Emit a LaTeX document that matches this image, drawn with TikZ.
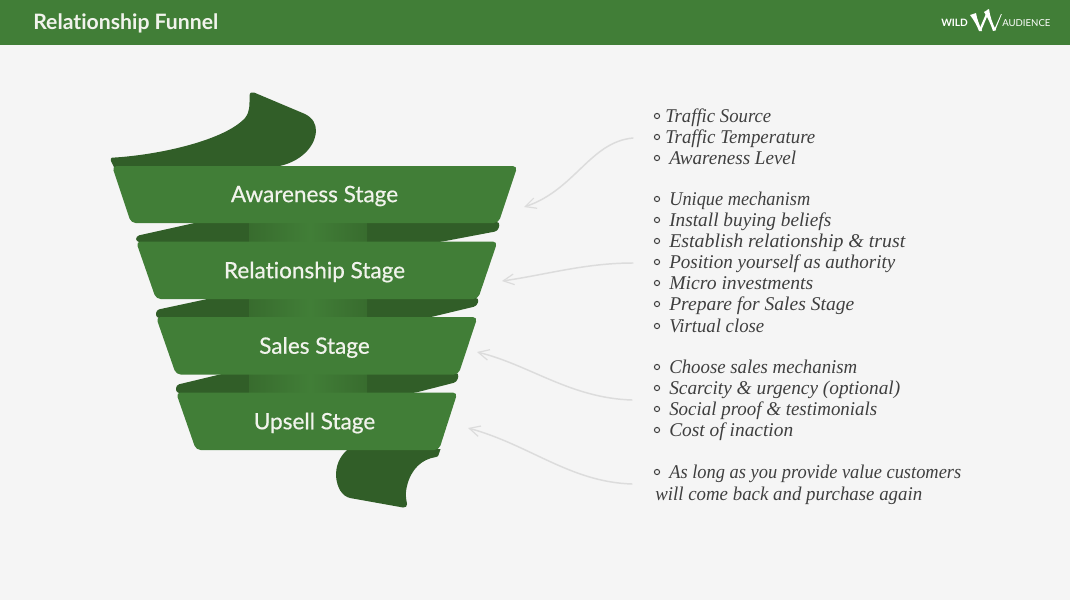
\documentclass[tikz,border=0pt]{standalone}
\usepackage{fontspec}
\setmainfont{Lato}[Ligatures=NoCommon]
\newfontfamily\handfont{Liberation Serif}[ItalicFont=* Italic]
\newfontfamily\stagefont{Lato}[FakeBold=0.6,Ligatures=NoCommon]
\usetikzlibrary{arrows.meta}
\definecolor{pagebg}{HTML}{F5F5F5}
\definecolor{leaf}{HTML}{417E37}
\definecolor{deep}{HTML}{315E28}
\definecolor{midgreen}{HTML}{386C2E}
\definecolor{ink}{HTML}{3F3F3F}
\definecolor{pale}{HTML}{DCDCDC}
\definecolor{cream}{HTML}{F1F3EC}
\tikzset{
  band/.style={fill=leaf,rounded corners=3.5pt},
  stagelabel/.style={text=cream,font=\stagefont\fontsize{16.9pt}{18pt}\selectfont,inner sep=0pt,anchor=center},
  handline/.style={text=ink,font=\handfont\itshape\fontsize{14.6pt}{17pt}\selectfont,inner sep=0pt,anchor=base west},
  bulletdot/.style={draw=ink,line width=0.75pt,fill=none},
  sketcharrow/.style={draw=pale,line width=1.1pt,line cap=round,-{Straight Barb[length=8pt,width=8pt,line width=0.9pt]}},
}
\newcommand{\fitw}[2]{\resizebox{\dimexpr 0.75pt*#1\relax}{\height}{#2}}
\newcommand{\stripshade}[3]{%
  \begin{scope}
    \clip #1;
    \fill[deep] (100,#2) rectangle (540,#3);
    \shade[left color=midgreen,right color=leaf] (249,#2) rectangle (310,#3);
    \shade[left color=leaf,right color=midgreen] (310,#2) rectangle (367,#3);
  \end{scope}}
\begin{document}
\begin{tikzpicture}[x=0.75pt,y=-0.75pt]
\useasboundingbox (0,0) rectangle (1070,600);
\fill[pagebg] (0,0) rectangle (1070,600);
\fill[leaf] (0,0) rectangle (1070,45);
\node[text=cream,font=\bfseries\fontsize{15.9pt}{18pt}\selectfont,inner sep=0pt,anchor=base west] (title) at (33,29.5) {Relationship Funnel};
% logo
\node[text=white,font=\bfseries\fontsize{7.6pt}{8pt}\selectfont,inner sep=0pt,anchor=base west] (logoa) at (941,26.5) {WILD};
\fill[white] (970,15) -- (976,13) .. controls (977,19) and (979,24) .. (982,31) -- (979,31) .. controls (977,26) and (974,20) .. (970,15) -- cycle;
\fill[white] (979,30) -- (988,9) -- (989,12) -- (981,31) -- cycle;
\fill[white] (984,12) -- (989,9) .. controls (990,16) and (992,23) .. (996,30) -- (993,31) .. controls (991,25) and (988,18) .. (984,12) -- cycle;
\fill[white] (994,30) -- (1001,14) -- (1001.8,14) -- (995,31) -- cycle;
\node[text=white,font=\fontsize{7.2pt}{8pt}\selectfont,inner sep=0pt,anchor=base west] (logob) at (1002,26.5) {AUDIENCE};
% top ribbon
\fill[deep] (112,157.7) .. controls (160,155) and (225,140) .. (245,118) .. controls (250,112) and (249.5,105) .. (249.5,96) .. controls (249.5,92.5) and (252,91.5) .. (254,92.5) -- (305,114) .. controls (313,118) and (316,124) .. (316,131) .. controls (315,150) and (295,165) .. (273,167) -- (114,167) -- (111,161) .. controls (110.5,159) and (110.5,158) .. (112,157.7) -- cycle;
% strips between bands
\stripshade{[rounded corners=2.5pt] (136,242) -- (136,236) -- (199,222) -- (500,222) -- (498,231) -- (440,242) -- cycle}{222}{242}
\stripshade{[rounded corners=2.5pt] (156,318) -- (156,310) -- (212,298) -- (479,298) -- (477,306) -- (427,318) -- cycle}{298}{318}
\stripshade{[rounded corners=2.5pt] (176,393) -- (176,385) -- (226,373) -- (459,373) -- (457,382) -- (414,393) -- cycle}{373}{393}
% tail
\fill[deep] (348,449) .. controls (338,458) and (336,467) .. (336,476) .. controls (337,488) and (342,496) .. (350,498) -- (403,507.5) .. controls (406,508) and (407,506) .. (407,504) .. controls (406,498) and (405,494) .. (407,486) .. controls (411,469) and (422,459) .. (436,457) .. controls (437.5,457) and (438,456) .. (438.5,455) -- (440.5,449) -- cycle;
% bands
\fill[band] (112,166) -- (517.5,166) -- (498.5,223) -- (131,223) -- cycle;
\fill[band] (136,241.5) -- (497.5,241.5) -- (478,299) -- (156,299) -- cycle;
\fill[band] (156,317) -- (477.5,317) -- (458.5,374.5) -- (176,374.5) -- cycle;
\fill[band] (176,392.5) -- (457.5,392.5) -- (439,450) -- (196,450) -- cycle;
\node[stagelabel] (s1) at (314.5,196) {Awareness Stage};
\node[stagelabel] (s2) at (314.5,272) {Relationship Stage};
\node[stagelabel] (s3) at (314.5,347.5) {Sales Stage};
\node[stagelabel] (s4) at (314.5,423) {Upsell Stage};
% text lines
\foreach \n/\bx/\tx/\by/\lw/\txt in {
 a/657/665/122/106/Traffic Source,
 b/657/665/143/150/Traffic Temperature,
 c/657/669/164/127/Awareness Level,
 d/657/669/205/141/Unique mechanism,
 e/657/669/226/162/Install buying beliefs,
 f/657/669/247/236/Establish relationship \& trust,
 g/657/669/268/226/Position yourself as authority,
 h/657/669/289/144/Micro investments,
 i/657/669/310/185/Prepare for Sales Stage,
 j/657/669/332/95/Virtual close,
 k/657/669/373/188/Choose sales mechanism,
 l/657/669/394/231/Scarcity \& urgency (optional),
 m/657/669/415/208/Social proof \& testimonials,
 n/657/669/436/124/Cost of inaction,
 o/657/669/478/292/As long as you provide value customers}{
  \node[handline] (t\n) at (\tx,\by) {\fitw{\lw}{\txt}};
  \draw[bulletdot] (\bx,\by-6) circle[radius=2.6];
}
\node[handline] (tp) at (655,500) {\fitw{267}{will come back and purchase again}};
% arrows
\coordinate (a1s) at (633,138); \coordinate (a1e) at (524,207);
\coordinate (a2s) at (633,263); \coordinate (a2e) at (502,281);
\coordinate (a3s) at (632,400); \coordinate (a3e) at (477,352);
\coordinate (a4s) at (632,484); \coordinate (a4e) at (468,428);
\draw[sketcharrow] (a1s) .. controls (590,142) and (575,190) .. (a1e);
\draw[sketcharrow] (a2s) .. controls (585,263) and (545,275) .. (a2e);
\draw[sketcharrow] (a3s) .. controls (570,398) and (530,365) .. (a3e);
\draw[sketcharrow] (a4s) .. controls (570,482) and (530,445) .. (a4e);
\end{tikzpicture}
\end{document}
